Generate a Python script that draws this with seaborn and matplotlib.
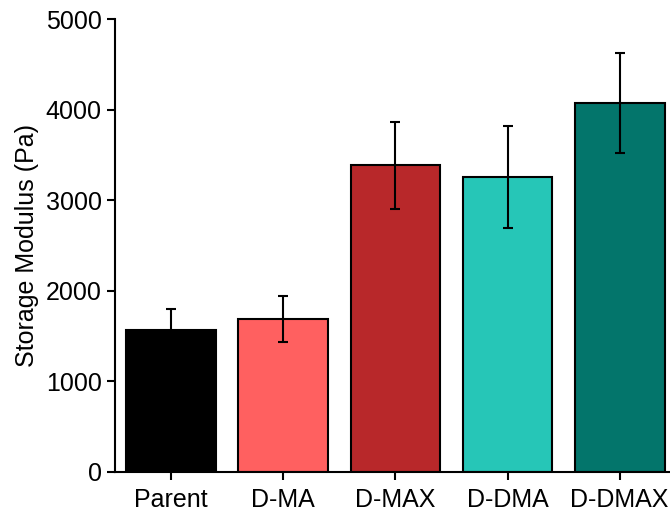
"""
Storage modulus bar chart
"""
import matplotlib
matplotlib.use("Agg")
import matplotlib.pyplot as plt
import seaborn as sns
import pandas as pd

# Data
groups = ["Parent", "D-MA", "D-MAX", "D-DMA", "D-DMAX"]
modulus = [1563, 1688, 3387, 3261, 4076]
modulus_err = [236, 252, 483, 565, 553]
bar_colors = ["#000000", "#FF6060", "#B8282A", "#26C6B7", "#03756B"]

sns.set_theme(style="ticks")
plt.rcParams['font.family'] = ['Liberation Sans', 'DejaVu Sans']
plt.rcParams['text.color'] = 'black'
plt.rcParams['axes.labelcolor'] = 'black'
plt.rcParams['xtick.color'] = 'black'
plt.rcParams['ytick.color'] = 'black'

df = pd.DataFrame({"group": groups, "modulus": modulus})

fig = plt.figure(figsize=(6.7, 5.12), dpi=100)
ax = fig.add_axes([0.1716, 0.0787, 0.837, 0.8836])

sns.barplot(data=df, x="group", y="modulus", hue="group", palette=bar_colors,
            order=groups, hue_order=groups, legend=False, width=0.8,
            saturation=1, edgecolor="black", linewidth=1.5, errorbar=None, ax=ax)

ax.errorbar(x=range(len(groups)), y=modulus, yerr=modulus_err, fmt="none",
            ecolor="black", elinewidth=1.5, capsize=3.5, capthick=1.5, zorder=5)

ax.set_xlim(-0.5, 4.5)
ax.set_ylim(0, 5000)
ax.set_yticks([0, 1000, 2000, 3000, 4000, 5000])
ax.set_xlabel("")
ax.set_ylabel("Storage Modulus (Pa)", fontsize=18, labelpad=5)
ax.tick_params(axis="both", labelsize=18, width=1.5, length=6, colors="black",
               direction="out")
ax.tick_params(axis="x", pad=6)
for side in ["top", "right"]:
    ax.spines[side].set_visible(False)
for side in ["left", "bottom"]:
    ax.spines[side].set_linewidth(1.5)
    ax.spines[side].set_color("black")

fig.savefig("out.png", dpi=100)
plt.close()
